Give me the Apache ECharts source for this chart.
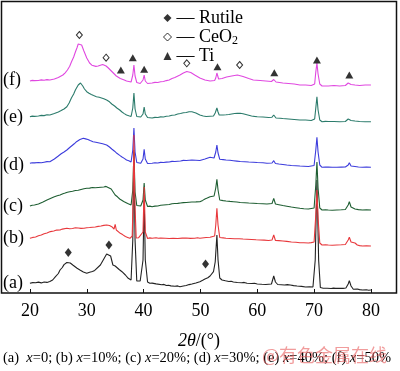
<!DOCTYPE html>
<html>
<head>
<meta charset="utf-8">
<script src="https://cdn.jsdelivr.net/npm/echarts@6/dist/echarts.min.js"></script>
<style>html,body{margin:0;padding:0;background:#fff}#c{width:400px;height:371px}</style>
</head>
<body>
<div id="c"></div>
<script>
// 2θ (deg) vs. intensity (arbitrary units, curves offset vertically)
const xTicks = [20, 30, 40, 50, 60, 70, 80];
const sampleNames = ['(a)', '(b)', '(c)', '(d)', '(e)', '(f)'];

const seriesA = [[20,9.7],[20.5,10.4],[21,10.2],[21.5,10.9],[22,10.1],[22.5,11],[23,10.6],[23.5,11.5],[24,13],[24.5,16.4],[25,19.5],[25.3,23],[25.7,25.5],[26,28.4],[26.5,30.5],[26.8,31],[27.1,30],[27.3,29],[27.6,27.8],[27.9,26.3],[28.3,24.8],[28.8,23],[29.1,22.4],[29.4,21],[29.7,20.8],[30,19.7],[30.5,20.7],[31,21.5],[31.4,22.6],[31.7,24],[32.4,28],[33,34],[33.5,39],[33.8,40.3],[34.2,37],[34.6,28],[35,27],[35.3,25.7],[35.7,23.5],[36.2,21.3],[36.8,18],[37.3,14.7],[37.8,13],[38.1,53],[38.3,143],[38.5,53],[38.8,12],[39.4,12],[39.9,33],[40.1,98],[40.3,33],[40.7,11],[41.1,9.7],[41.5,9.9],[41.8,9.2],[42.2,9.1],[42.5,8.5],[43.2,8.2],[43.6,8.6],[44,7.5],[44.4,7.7],[44.8,7.1],[45.5,6.7],[46,7.1],[46.4,6.3],[47,7],[47.5,7.5],[48,8.4],[48.5,9],[49.2,10],[49.9,11.3],[50.4,12.7],[50.8,14],[51.3,15.2],[51.7,17],[52.3,21.3],[52.6,31],[52.9,58],[53.1,33],[53.4,15],[53.8,13],[54.4,12.2],[55,11.5],[55.4,11.8],[55.8,11],[56.5,10.5],[57.3,10.2],[57.7,10.6],[58.2,9.7],[59,9.5],[59.5,9.8],[60,9],[60.8,8.7],[61.5,8.5],[62,8.8],[62.5,9],[62.9,17],[63.2,11],[63.6,8.5],[64.2,8.3],[64.8,8],[65.3,8.4],[65.8,8],[66.4,7.4],[67,7],[67.8,6.6],[68.5,6],[69.2,6.2],[69.8,6],[70.2,33],[70.5,113],[70.8,33],[71.1,5.5],[71.6,4.7],[72.3,4.8],[73,4.5],[73.4,4.9],[73.8,4.6],[74.5,4.7],[75.1,4.6],[75.6,5],[76,9],[76.2,12.3],[76.5,7],[76.9,3.7],[77.2,5.7],[77.6,4],[78,3.4],[78.5,3],[79.2,3.2],[79.6,2.8],[80,3]];

const seriesB = [[20,54.7],[20.5,55.6],[21,56],[21.5,57.3],[22,58],[22.5,59.3],[23,60],[23.6,61.4],[24.2,62],[24.7,62.9],[25.3,63],[25.7,63.9],[26,64],[26.5,64.7],[27,64.2],[27.5,64.5],[28,65.2],[28.5,65],[29,64.6],[29.5,64.7],[30,65.3],[30.5,65.5],[31,65.8],[31.5,66],[32,66.6],[32.5,67],[33,67.6],[33.5,68],[34,67.5],[34.4,66.3],[34.8,64],[35,68.7],[35.2,63],[35.9,59.7],[36.3,58.4],[36.8,56.5],[37.2,55.6],[37.6,54.7],[38,57],[38.15,93],[38.3,158],[38.45,93],[38.7,55],[39.1,55.2],[39.4,54.7],[39.9,61],[40.1,106],[40.3,61],[40.7,54.5],[41.1,55.1],[41.5,54.7],[42.2,55.2],[42.6,54.7],[43,55],[43.8,54.8],[44.5,54.5],[45.2,54.8],[46,54.5],[46.8,54.9],[47.5,55],[48.2,54.6],[49,54.7],[49.5,55.2],[49.9,54.7],[51,55.5],[51.7,55.7],[52.5,57],[52.7,68],[52.9,84.7],[53.1,68],[53.4,55.5],[54,55.1],[54.5,54.7],[55.2,54.5],[56,54.2],[56.8,54.3],[57.5,54],[58.2,53.8],[59,53.5],[59.8,53.2],[60.5,53],[61.2,52.9],[62,52.5],[62.6,53],[62.9,58],[63.2,52.5],[63.8,52.4],[64.5,52],[65.2,51.6],[66,51],[66.8,50.8],[67.5,50.3],[68.2,50.2],[69,50],[69.5,50.4],[70,51],[70.3,78],[70.5,103],[70.7,75],[71,50],[71.4,48],[72,48.2],[72.5,48],[73.2,47.8],[74,48],[74.8,48.2],[75.5,48.5],[76,53],[76.2,55.7],[76.5,51],[77.2,50],[77.6,48],[78,47.4],[78.5,47],[79.2,47.2],[80,47]];

const seriesC = [[20,87],[20.4,87.8],[20.8,88],[21.5,89],[22.3,91],[23,93],[23.6,94.5],[24.2,96],[24.8,97.2],[25.3,98],[25.8,99.3],[26.2,100],[26.6,100.8],[27,101.3],[27.5,101.8],[28,102.5],[28.5,102.8],[29,103.5],[29.5,104.2],[30,104.7],[30.5,104.9],[31,105.5],[31.5,105.2],[32,105.5],[32.5,105.8],[33,106],[33.4,106.6],[33.7,106.5],[34.3,104],[35,98],[35.4,96.2],[35.8,94],[36.5,91.5],[37.2,89.5],[37.8,88],[38.1,103],[38.3,141],[38.5,101],[38.8,87.5],[39.5,87],[39.9,93],[40.1,110],[40.3,93],[40.7,86.5],[41.1,86.9],[41.5,86.3],[42,86.9],[42.5,87],[43,87.7],[43.5,88],[44,88.3],[44.5,88.5],[45,89.3],[45.5,89.5],[46,89.6],[46.5,90],[47,90.4],[47.5,90.5],[48,90.8],[48.5,91],[49.2,91.1],[49.9,91.3],[50.4,92.6],[50.8,94],[51.2,95],[51.7,96.3],[52.4,97],[52.7,105],[52.9,113.7],[53.1,103],[53.4,93],[54,92.4],[54.5,92],[55.2,91.6],[55.8,91.3],[56.4,91],[57,90.5],[57.8,90.3],[58.5,90],[59.3,89.8],[60,89.5],[61,89.3],[61.7,89],[62.6,89.5],[62.9,94.7],[63.2,89],[63.8,88.3],[64.5,87.5],[65.2,86.8],[66,86],[66.8,85.3],[67.5,84.7],[68.2,84.3],[69,84],[70,85],[70.3,108],[70.5,131],[70.7,105],[71,85],[71.4,83],[72,83.2],[72.5,83],[73.2,82.8],[74,83],[74.8,83.2],[75.5,83.5],[76,88],[76.2,91.3],[76.5,86],[77.2,84],[77.8,83.4],[78.5,83],[79.2,83.2],[80,83]];

const seriesD = [[20,129.7],[20.4,130.3],[20.8,130.1],[21.5,130.5],[22,130.2],[22.5,130.8],[23,131.4],[23.5,131.3],[24.3,134],[25,137],[25.5,139.2],[26,141],[26.5,143],[27,145.5],[27.3,147],[27.8,149.2],[28.2,151.3],[28.8,153.5],[29.1,154.2],[29.4,154.7],[29.8,154.1],[30.2,153.5],[30.6,152.4],[31.1,151.3],[31.6,150.8],[32.2,150],[32.8,149.2],[33.5,148],[34,146],[34.4,144],[34.9,141.8],[35.3,139.7],[35.8,137.6],[36.2,136],[36.6,134.6],[37,133],[37.4,132.2],[37.8,131],[38.1,143],[38.3,165],[38.5,141],[38.8,130.5],[39.5,129.7],[39.9,134],[40.1,143.7],[40.3,134],[40.7,129.5],[41.5,129.7],[42,130.2],[42.5,130],[43,130.6],[43.5,130.5],[44,130.9],[44.5,131],[45,131.6],[45.5,131.5],[46,131.8],[46.5,132],[47,132.6],[47.5,132.5],[48,132.8],[48.5,133],[49.2,132.8],[49.9,132.5],[50.8,134],[51.7,135.7],[52.4,135],[52.7,141],[52.9,148],[53.1,140],[53.4,133.7],[54,133.4],[54.5,133],[55.2,132.7],[55.8,132.3],[56.4,131.9],[57,131.5],[57.8,131.3],[58.5,131],[59.3,130.8],[60,130.5],[61,130.2],[61.7,129.7],[62.6,130],[62.9,132.3],[63.2,129.5],[63.8,129],[64.5,128.5],[65.2,128],[66,127.5],[66.8,127.3],[67.5,127],[68.2,126.8],[69,126.5],[70,127.5],[70.3,143],[70.5,155.7],[70.7,141],[71,128],[71.4,125.7],[72,125.9],[72.5,126],[73.2,125.8],[74,125.7],[74.8,125.9],[75.5,126],[76,128],[76.2,130.3],[76.5,127],[77.2,126.5],[77.8,126],[78.5,125.7],[79.2,125.9],[80,125.7]];

const seriesE = [[20,176.3],[20.4,176.9],[20.8,176.6],[21.5,177],[22,177.6],[22.5,177.4],[23,178.2],[23.5,178],[24.3,179.5],[25,181],[25.5,182.4],[26,184],[26.5,186.3],[26.9,190],[27.3,195],[27.7,199],[28,203],[28.5,208],[28.9,210],[29.3,207],[29.6,204],[30,201.3],[30.4,199.7],[30.8,198.5],[31.2,197.4],[31.7,196.3],[32.2,195.7],[32.6,195],[33,194.2],[33.5,193],[34,191.2],[34.4,189],[34.9,187],[35.3,185],[35.8,183],[36.2,181],[36.6,179.4],[37,178],[37.4,177.2],[37.8,176.5],[38.1,185],[38.3,200],[38.5,184],[38.8,176.5],[39.5,176],[39.9,179],[40.1,186],[40.3,179],[40.7,175.5],[41.5,175],[42,175.6],[42.5,175.5],[43,176.1],[43.5,176],[44,176.7],[44.5,177],[45,177.8],[45.5,178],[46,179],[46.5,179.5],[47,180.3],[47.5,180.5],[48,181.2],[48.5,181.3],[49.2,180],[49.9,178],[50.5,177],[51,176.5],[51.7,176.8],[52.3,177],[52.6,180],[52.9,185],[53.1,181],[53.3,178],[54,178],[54.5,178.2],[55,178.5],[55.5,179],[56,179.5],[56.5,179.6],[57,179.7],[57.5,179.2],[58,178.5],[58.5,177.8],[59,177],[59.5,176.6],[60,176.3],[61,176],[62,175.5],[62.6,175.8],[62.9,178],[63.3,175],[64,174.8],[64.5,174.5],[65.5,174],[66.5,173.5],[67.5,173],[68.5,173],[69.5,172.5],[70.1,174],[70.3,185],[70.5,196.3],[70.7,183],[71,173],[71.4,171.3],[72,171.6],[72.5,171.5],[73.5,171.5],[74.5,171.3],[75.5,171.5],[76,174],[76.2,176],[76.5,172.5],[77.2,172],[78,171.5],[79,171.3],[80,171.3]];

const seriesF = [[20,212],[20.4,212.6],[20.8,212.4],[21.5,212.5],[22,213.1],[22.5,212.7],[23,213.4],[23.5,213],[24.3,214],[25,215.5],[25.8,218],[26.2,220.2],[26.6,223],[27,226.8],[27.3,231],[27.7,236],[28,241],[28.3,245.5],[28.5,249],[28.8,250.5],[29.1,248],[29.5,242],[30,235],[30.5,230],[30.9,227.8],[31.2,226.5],[31.6,226.6],[32,227],[32.4,227.8],[32.8,228.5],[33.1,228.2],[33.4,227],[33.8,225],[34.1,223],[34.5,221],[34.8,219],[35.2,217],[35.5,215],[35.9,214.5],[36.2,214],[36.6,213],[37,212],[37.4,211.5],[37.8,211],[38.1,218],[38.3,228],[38.5,217],[38.8,210.5],[39.4,209.5],[39.9,213],[40.1,218],[40.3,212],[40.7,209.5],[41.5,210],[42,210.6],[42.5,210.5],[43,211.3],[43.5,211.5],[44,212.4],[44.5,213],[45,214.5],[45.5,215.5],[46.4,218],[47,220],[47.6,221.5],[48.3,220.5],[49,218],[49.9,215],[50.8,213],[51.7,212],[52.5,212.5],[52.7,215],[52.9,220],[53.2,214],[53.8,214.5],[54.6,216],[55.5,217],[56.5,218],[57.5,216.5],[58.5,214.5],[59.3,213],[60.5,212.5],[61.5,212],[62.5,211.5],[62.9,213.5],[63.3,211],[64.5,210],[65.5,209.5],[66.5,209],[67.5,208],[68.5,208],[69.5,207.5],[70.1,209],[70.3,221],[70.5,230],[70.7,219],[71,209],[71.4,207],[72.5,207],[73.5,207.5],[74.5,207],[75.5,207.5],[76,210],[76.2,211.5],[76.5,208.5],[77.2,208],[78,207.5],[79,208],[80,208]];

// peak markers
const rutilePeaks = [[26.75, 40.5], [33.9, 48], [50.9, 29]];
const ceo2Peaks = [[28.7, 258], [33.4, 235.3], [47.6, 229.7], [56.9, 228]];
const tiPeaks = [[36.0, 223], [38.1, 235.3], [40.1, 223.7], [53.0, 226.3], [63.0, 220.3], [70.5, 233], [76.2, 218]];

const lineColors = ['#222222', '#e8383c', '#1e5e32', '#3c3cdc', '#2b7b6b', '#e048e0'];
const curves = [seriesA, seriesB, seriesC, seriesD, seriesE, seriesF];
const labelY = [283, 238, 206, 165, 117, 80];

const FONT = "'Liberation Serif', 'Times New Roman', serif";

const chart = echarts.init(document.getElementById('c'), null, {renderer: 'canvas'});

const series = curves.map((d, i) => ({
  name: sampleNames[i],
  type: 'line',
  data: d,
  showSymbol: false,
  symbol: 'none',
  lineStyle: {color: lineColors[i], width: 1.1},
  itemStyle: {color: lineColors[i]},
  silent: true,
  animation: false,
  z: 2 + (i === 1 ? 1 : 0)
}));

series.push({
  name: 'Rutile', type: 'scatter', data: rutilePeaks, symbol: 'diamond', symbolSize: [7, 9],
  itemStyle: {color: '#000'}, z: 10, animation: false
});
series.push({
  name: 'CeO2', type: 'scatter', data: ceo2Peaks, symbol: 'diamond', symbolSize: [6, 7],
  itemStyle: {color: '#fff', borderColor: '#000', borderWidth: 1}, z: 10, animation: false
});
series.push({
  name: 'Ti', type: 'scatter', data: tiPeaks, symbol: 'triangle', symbolSize: [8, 7],
  itemStyle: {color: '#000'}, z: 10, animation: false
});

const graphics = sampleNames.map((n, i) => ({
  type: 'text',
  style: {
    text: n, x: 3, y: labelY[i],
    font: '18px ' + FONT, fill: '#000', verticalAlign: 'middle'
  }
}));

graphics.push({
  type: 'text',
  style: {
    text: '(a)  {i|x}=0; (b) {i|x}=10%; (c) {i|x}=20%; (d) {i|x}=30%; (e) {i|x}=40%; (f) {i|x}=50%',
    x: 3, y: 358, font: '14.5px ' + FONT, fill: '#000', verticalAlign: 'middle',
    rich: {i: {fontStyle: 'italic', fontSize: 14.5, fontFamily: FONT}}
  }
});
graphics.push({
  type: 'text',
  style: {
    text: '@有色金属在线', x: 262, y: 355,
    font: "18px 'Noto Sans CJK SC', sans-serif", fill: 'rgba(232,90,90,0.6)', verticalAlign: 'middle'
  },
  z: 100
});

chart.setOption({
  animation: false,
  backgroundColor: '#fff',
  grid: {left: 1.5, right: 3.5, top: 1.5, bottom: 78, show: true, borderColor: '#111', borderWidth: 1.5, backgroundColor: 'transparent', containLabel: false, outerBoundsMode: 'none'},
  xAxis: {
    type: 'value', min: 15, max: 84.5,
    axisLine: {show: false},
    splitLine: {show: false},
    axisTick: {show: true, inside: true, length: 4, lineStyle: {color: '#111', width: 1}, customValues: xTicks},
    axisLabel: {customValues: xTicks, margin: 9, color: '#000', fontSize: 18, fontFamily: FONT},
    name: '{i|2θ}/(°)',
    nameLocation: 'middle', nameGap: 39,
    nameTextStyle: {color: '#000', fontSize: 18, fontFamily: FONT, rich: {i: {fontStyle: 'italic', fontSize: 18, fontFamily: FONT, color: '#000'}}}
  },
  yAxis: {
    type: 'value', min: 0, max: 291.5, show: false
  },
  legend: {
    data: [
      {name: 'Rutile', itemStyle: {borderWidth: 0}},
      {name: 'CeO2', itemStyle: {color: '#fff', borderColor: '#000', borderWidth: 1}},
      {name: 'Ti', itemStyle: {borderWidth: 0}}
    ],
    orient: 'vertical', left: 158, top: 3.5,
    itemWidth: 8, itemHeight: 8, itemGap: 0,
    formatter: n => n === 'CeO2' ? '— CeO{s|2}' : '— ' + n,
    textStyle: {color: '#000', fontSize: 18, fontFamily: FONT, lineHeight: 19,
      rich: {s: {fontSize: 12, fontFamily: FONT, lineHeight: 12, verticalAlign: 'bottom', color: '#000'}}},
    selectedMode: false
  },
  graphic: graphics,
  series: series
});
</script>
</body>
</html>
